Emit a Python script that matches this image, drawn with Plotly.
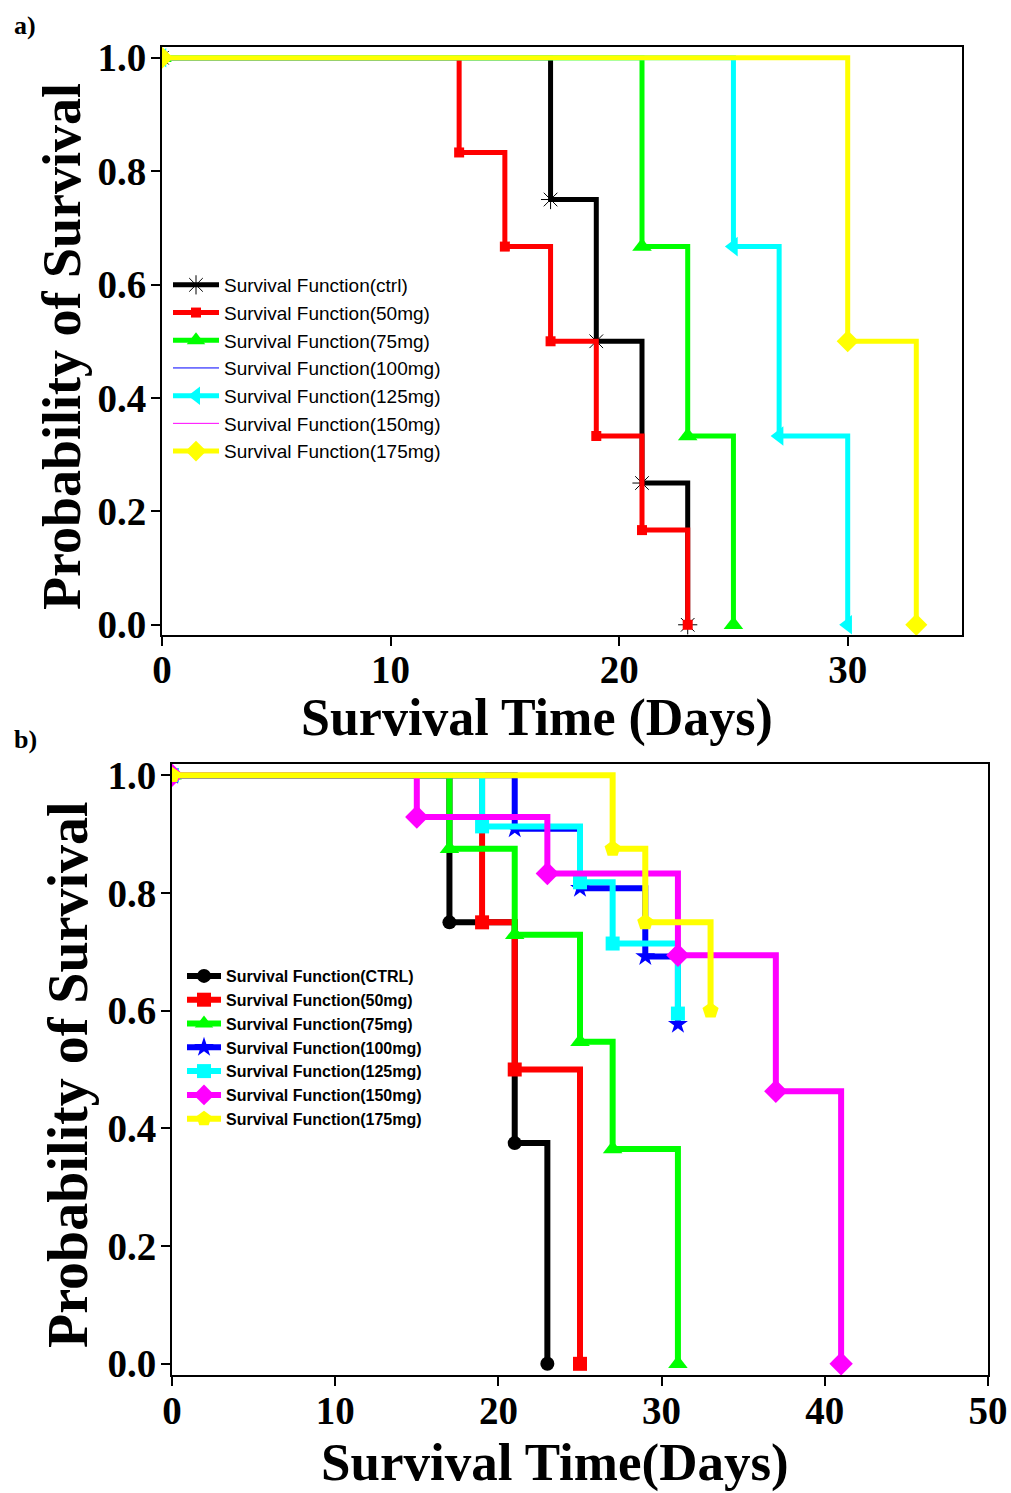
import plotly.graph_objects as go

W, H = 1011, 1493

# ---------------- Panel a data ----------------
a_names = ["Survival Function(ctrl)", "Survival Function(50mg)", "Survival Function(75mg)",
           "Survival Function(100mg)", "Survival Function(125mg)", "Survival Function(150mg)",
           "Survival Function(175mg)"]
a_ctrl_t = [0, 17, 19, 21, 23]
a_ctrl_s = [1.0, 0.75, 0.5, 0.25, 0.0]
a_50_t = [0, 13, 15, 17, 19, 21, 23]
a_50_s = [1.0, 0.833, 0.667, 0.5, 0.333, 0.167, 0.0]
a_75_t = [0, 21, 23, 25]
a_75_s = [1.0, 0.667, 0.333, 0.0]
a_100_t = [0, 30]
a_100_s = [1.0, 1.0]
a_125_t = [0, 25, 27, 30]
a_125_s = [1.0, 0.667, 0.333, 0.0]
a_150_t = [0, 30]
a_150_s = [1.0, 1.0]
a_175_t = [0, 30, 33]
a_175_s = [1.0, 0.5, 0.0]

# ---------------- Panel b data ----------------
b_names = ["Survival Function(CTRL)", "Survival Function(50mg)", "Survival Function(75mg)",
           "Survival Function(100mg)", "Survival Function(125mg)", "Survival Function(150mg)",
           "Survival Function(175mg)"]
b_ctrl_t = [0, 17, 21, 23]
b_ctrl_s = [1.0, 0.75, 0.375, 0.0]
b_50_t = [0, 19, 21, 25]
b_50_s = [1.0, 0.75, 0.5, 0.0]
b_75_t = [0, 17, 21, 25, 27, 31]
b_75_s = [1.0, 0.875, 0.729, 0.547, 0.365, 0.0]
b_100_t = [0, 21, 25, 29, 31]
b_100_s = [1.0, 0.909, 0.808, 0.692, 0.577]
b_125_t = [0, 19, 25, 27, 31]
b_125_s = [1.0, 0.913, 0.818, 0.714, 0.595]
b_150_t = [0, 15, 23, 31, 37, 41]
b_150_s = [1.0, 0.929, 0.833, 0.694, 0.463, 0.0]
b_175_t = [0, 27, 29, 33]
b_175_s = [1.0, 0.875, 0.75, 0.6]

x_ticks_a = [0, 10, 20, 30]
x_ticks_b = [0, 10, 20, 30, 40, 50]
y_ticks = [0.0, 0.2, 0.4, 0.6, 0.8, 1.0]

fig = go.Figure()

# panel a traces
a_specs = [
    (a_ctrl_t, a_ctrl_s, "#000000", "asterisk-open", 16, 5, "lines+markers"),
    (a_50_t, a_50_s, "#FF0000", "square", 10, 5, "lines+markers"),
    (a_75_t, a_75_s, "#00FF00", "triangle-up", 17, 5, "lines+markers"),
    (a_100_t, a_100_s, "#0000FF", "circle", 1, 1, "lines"),
    (a_125_t, a_125_s, "#00FFFF", "triangle-left", 17, 5, "lines+markers"),
    (a_150_t, a_150_s, "#FF00FF", "circle", 1, 1, "lines"),
    (a_175_t, a_175_s, "#FFFF00", "diamond", 17, 5, "lines+markers"),
]
for name, (t, s, c, sym, ms, lw, mode) in zip(a_names, a_specs):
    marker = dict(symbol=sym, size=ms, color=c)
    if sym == "asterisk-open":
        marker["line"] = dict(color="#000000", width=1)
    fig.add_trace(go.Scatter(x=t, y=s, mode=mode, name=name, line=dict(color=c, width=lw, shape="hv"),
                             marker=marker, xaxis="x", yaxis="y", legend="legend"))

# panel b traces
b_specs = [
    (b_ctrl_t, b_ctrl_s, "#000000", "circle", 14),
    (b_50_t, b_50_s, "#FF0000", "square", 14),
    (b_75_t, b_75_s, "#00FF00", "triangle-up", 17),
    (b_100_t, b_100_s, "#0000FF", "star", 15),
    (b_125_t, b_125_s, "#00FFFF", "square", 14),
    (b_150_t, b_150_s, "#FF00FF", "diamond", 18),
    (b_175_t, b_175_s, "#FFFF00", "pentagon", 17),
]
for name, (t, s, c, sym, ms) in zip(b_names, b_specs):
    fig.add_trace(go.Scatter(x=t, y=s, mode="lines+markers", name=name,
                             line=dict(color=c, width=6, shape="hv"),
                             marker=dict(symbol=sym, size=ms, color=c),
                             xaxis="x2", yaxis="y2", legend="legend2"))

tickfont = dict(family="Liberation Serif", size=39, color="black", weight="bold")
axis_common = dict(showline=True, linecolor="black", linewidth=2, mirror=True,
                   ticks="outside", ticklen=9, tickwidth=2, tickcolor="black",
                   showgrid=False, zeroline=False, tickfont=tickfont, automargin=False)

fig.update_layout(
    template="none",
    width=W, height=H, margin=dict(l=0, r=0, t=0, b=0, pad=0), autosize=False,
    paper_bgcolor="white", plot_bgcolor="white",
    xaxis=dict(domain=[162 / W, 962 / W], range=[0, 35], tickvals=x_ticks_a,
               anchor="y", ticklabelstandoff=-10, **axis_common),
    yaxis=dict(domain=[1 - 635 / H, 1 - 47 / H], range=[-0.018, 1.019], tickvals=y_ticks,
               tickformat=".1f", anchor="x", ticklabelstandoff=-3, **axis_common),
    xaxis2=dict(domain=[172 / W, 988 / W], range=[0, 50], tickvals=x_ticks_b,
                anchor="y2", ticklabelstandoff=-9, **axis_common),
    yaxis2=dict(domain=[1 - 1375 / H, 1 - 764 / H], range=[-0.019, 1.019], tickvals=y_ticks,
                tickformat=".1f", anchor="x2", ticklabelstandoff=-3, **axis_common),
    legend=dict(x=168 / W, y=1 - 266 / H, xanchor="left", yanchor="top",
                bgcolor="rgba(0,0,0,0)", itemwidth=46, tracegroupgap=0, borderwidth=0,
                font=dict(family="Arial, Liberation Sans", size=19, color="black")),
    legend2=dict(x=182 / W, y=1 - 959 / H, xanchor="left", yanchor="top",
                 bgcolor="rgba(0,0,0,0)", itemwidth=34, tracegroupgap=0, borderwidth=0,
                 font=dict(family="Arial, Liberation Sans", size=16, color="black", weight="bold")),
    showlegend=True,
)

title_font = dict(family="Liberation Serif", size=52, color="black", weight="bold")
ann = [
    dict(text="<b>a)</b>", x=12 / W, y=1 - 25 / H, xanchor="left", yanchor="middle",
         font=dict(family="Liberation Serif", size=26, color="black")),
    dict(text="<b>b)</b>", x=12 / W, y=1 - 740 / H, xanchor="left", yanchor="middle",
         font=dict(family="Liberation Serif", size=26, color="black")),
    dict(text="<b>Probability of Survival</b>", x=62 / W, y=1 - 347 / H, textangle=-90,
         xanchor="center", yanchor="middle", font=dict(title_font, size=54)),
    dict(text="<b>Survival Time (Days)</b>", x=537 / W, y=1 - 718 / H,
         xanchor="center", yanchor="middle", font=title_font),
    dict(text="<b>Probability of Survival</b>", x=68 / W, y=1 - 1075 / H, textangle=-90,
         xanchor="center", yanchor="middle", font=dict(title_font, size=56)),
    dict(text="<b>Survival Time(Days)</b>", x=555 / W, y=1 - 1462 / H,
         xanchor="center", yanchor="middle", font=dict(title_font, size=53)),
]
for a in ann:
    a.update(xref="paper", yref="paper", showarrow=False)
fig.update_layout(annotations=ann)

fig.write_html("out.html")
